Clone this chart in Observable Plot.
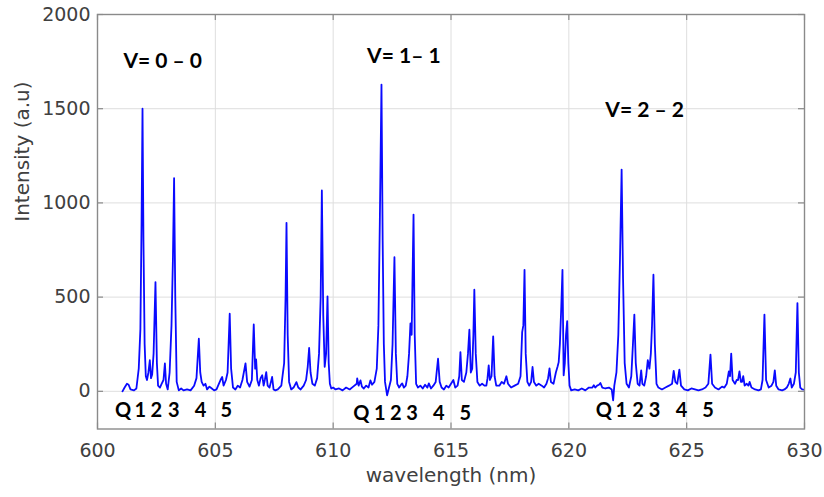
<!DOCTYPE html>
<html>
<head>
<meta charset="utf-8">
<script src="https://cdn.jsdelivr.net/npm/d3@7"></script>
<script src="https://cdn.jsdelivr.net/npm/@observablehq/plot@0.6"></script>
<style>
  html, body { margin: 0; padding: 0; background: #ffffff; }
  #chart svg { display: block; }
</style>
</head>
<body>
<div id="chart"></div>
<script>
// ---- data ----
const wavelength = [
  601.06,601.15,601.25,601.32,601.40,601.55,601.65,601.75,601.82,601.87,601.91,601.95,602.00,602.05,602.10,602.16,602.22,602.27,602.32,602.38,602.46,602.52,602.57,602.65,602.72,602.80,602.86,602.91,602.98,603.06,603.14,603.20,603.25,603.30,603.36,603.45,603.55,603.65,603.80,603.95,604.10,604.20,604.30,604.36,604.42,604.50,604.58,604.65,604.75,604.85,604.95,605.05,605.15,605.22,605.29,605.35,605.45,605.52,605.61,605.67,605.75,605.85,605.95,606.05,606.15,606.28,606.35,606.45,606.55,606.63,606.69,606.73,606.78,606.85,606.92,606.99,607.05,607.10,607.16,607.22,607.30,607.36,607.41,607.47,607.55,607.65,607.80,607.92,607.98,608.02,608.07,608.13,608.22,608.32,608.44,608.52,608.62,608.75,608.85,608.92,608.98,609.04,609.12,609.22,609.32,609.40,609.47,609.52,609.58,609.64,609.70,609.76,609.81,609.86,609.92,610.00,
  610.10,610.25,610.40,610.55,610.70,610.85,611.00,611.02,611.08,611.16,611.22,611.30,611.40,611.50,611.58,611.65,611.75,611.85,611.92,611.98,612.05,612.10,612.15,612.20,612.29,612.35,612.45,612.52,612.60,612.66,612.72,612.80,612.88,612.93,613.00,613.08,613.15,613.22,613.28,613.33,613.41,613.46,613.52,613.60,613.70,613.80,613.90,614.00,614.06,614.15,614.25,614.35,614.45,614.52,614.60,614.70,614.80,614.90,615.00,615.10,615.18,615.28,615.35,615.40,615.46,615.55,615.65,615.72,615.78,615.84,615.90,615.95,615.99,616.05,616.12,616.22,616.32,616.42,616.50,616.55,616.60,616.65,616.72,616.79,616.85,616.92,617.05,617.15,617.25,617.35,617.42,617.55,617.70,617.85,617.95,618.02,618.07,618.12,618.17,618.24,618.32,618.40,618.46,618.52,618.62,618.72,618.85,618.95,619.05,619.12,619.18,619.24,619.35,619.45,619.52,619.57,619.62,619.68,619.73,619.78,619.83,619.88,619.93,619.98,620.03,
  620.10,620.25,620.40,620.55,620.70,620.85,621.00,621.06,621.12,621.20,621.28,621.34,621.42,621.55,621.70,621.82,621.88,621.93,622.02,622.10,622.17,622.24,622.30,622.37,622.45,622.55,622.65,622.72,622.78,622.84,622.92,623.00,623.07,623.12,623.20,623.28,623.35,623.42,623.48,623.53,623.59,623.65,623.72,623.80,623.95,624.10,624.25,624.38,624.45,624.52,624.60,624.69,624.76,624.90,625.05,625.20,625.35,625.50,625.65,625.80,625.92,626.01,626.08,626.20,626.35,626.50,626.60,626.70,626.79,626.84,626.89,626.95,627.05,627.12,627.18,627.24,627.30,627.35,627.40,627.46,627.55,627.62,627.67,627.75,627.90,628.05,628.15,628.22,628.30,628.37,628.48,628.60,628.68,628.74,628.80,628.90,629.05,629.15,629.25,629.33,629.40,629.46,629.55,629.63,629.70,629.76,629.82,629.90,629.97
];
const intensity = [
  0,20,40,35,10,5,15,120,330,900,1500,800,250,80,60,100,165,70,90,200,580,150,30,20,40,60,148,40,10,100,350,700,1131,500,50,5,15,5,10,5,30,70,279,100,50,30,40,10,25,15,5,10,40,60,76,30,60,100,412,120,20,10,30,20,60,148,50,25,60,355,120,170,60,30,70,85,30,60,102,30,20,50,76,10,5,10,30,150,500,894,300,50,10,20,49,20,10,30,60,130,230,100,40,30,70,200,500,1066,400,130,200,504,150,40,15,20,
  10,15,5,20,10,25,40,69,30,58,25,15,30,20,58,35,50,120,350,900,1628,800,250,50,-21,10,60,250,712,200,40,20,35,42,20,30,80,200,361,300,938,300,40,20,30,15,35,20,42,15,30,50,173,50,20,10,30,20,40,60,20,30,80,208,60,50,100,200,327,100,120,300,539,200,50,30,40,30,30,70,138,60,80,292,80,30,30,50,40,80,40,20,30,40,80,314,350,645,200,50,30,50,129,50,30,40,30,20,40,70,122,50,40,100,130,155,250,450,645,85,150,300,373,150,30,
  5,10,5,15,5,20,20,32,20,30,35,44,20,15,20,10,-48,30,100,300,700,1177,600,150,40,20,80,250,407,150,40,30,111,40,30,80,165,120,200,350,619,250,40,20,10,20,30,40,108,50,40,115,30,10,5,15,10,5,10,20,40,195,40,20,10,25,20,40,106,80,200,60,40,60,60,106,50,50,80,30,40,30,50,20,10,5,10,60,407,60,20,30,50,111,30,10,5,10,20,40,68,20,40,100,468,100,20,10,9
];
const xTicks = [600, 605, 610, 615, 620, 625, 630];
const yTicks = [0, 500, 1000, 1500, 2000];
const xLabel = "wavelength (nm)";
const yLabel = "Intensity (a.u)";

const bandLabels = ["V= 0 – 0", "V= 1– 1", "V= 2 – 2"];
const bandX = [601.10, 611.44, 621.55];
const bandY = [1750, 1776, 1490];

const branchLabels = ["Q", "1", "2", "3", "4", "5"];
const branchX = [
  [601.09, 601.82, 602.50, 603.24, 604.37, 605.47],
  [611.19, 611.98, 612.66, 613.35, 614.48, 615.61],
  [621.48, 622.23, 622.94, 623.64, 624.78, 625.91]
];
const branchY = [-104, -117, -104];

// ---- build tables ----
const spectrum = wavelength.map((w, i) => ({w, v: intensity[i]}));
const bands = bandLabels.map((t, i) => ({t, x: bandX[i], y: bandY[i]}));
const branches = branchX.flatMap((xs, j) => xs.map((x, i) => ({t: branchLabels[i], x, y: branchY[j]})));

const W = 824, H = 497;
const mL = 97, mR = 20, mT = 14, mB = 68.5;
const innerW = W - mL - mR, innerH = H - mT - mB;
const tickLen = 6;
const axisColor = "#8a8a8a";
const textColor = "#404040";

const chart = Plot.plot({
  width: W,
  height: H,
  marginLeft: mL,
  marginRight: mR,
  marginTop: mT,
  marginBottom: mB,
  style: {fontFamily: "DejaVu Sans", fontSize: "19px", color: textColor, background: "#ffffff"},
  x: {domain: [600, 630], ticks: xTicks, label: null},
  y: {domain: [-200, 2000], ticks: yTicks, label: null},
  marks: [
    Plot.gridX(xTicks, {stroke: "#dedede", strokeOpacity: 1, strokeWidth: 1}),
    Plot.gridY(yTicks, {stroke: "#dedede", strokeOpacity: 1, strokeWidth: 1}),
    Plot.line(spectrum, {x: "w", y: "v", stroke: "#0a0aff", strokeWidth: 1.8, curve: "linear"}),
    Plot.frame({stroke: axisColor, strokeWidth: 1.4}),
    Plot.tickX(xTicks, {x: d => d, insetTop: innerH - tickLen, stroke: axisColor, strokeWidth: 1.2}),
    Plot.tickX(xTicks, {x: d => d, insetBottom: innerH - tickLen, stroke: axisColor, strokeWidth: 1.2}),
    Plot.tickY(yTicks, {y: d => d, insetRight: innerW - tickLen, stroke: axisColor, strokeWidth: 1.2}),
    Plot.tickY(yTicks, {y: d => d, insetLeft: innerW - tickLen, stroke: axisColor, strokeWidth: 1.2}),
    Plot.axisX(xTicks, {tickSize: 0, tickPadding: 14, fontSize: 19, fill: textColor, tickFormat: d => String(d)}),
    Plot.axisY(yTicks, {tickSize: 0, tickPadding: 7, fontSize: 19, fill: textColor, tickFormat: d => String(d)}),
    Plot.text([xLabel], {frameAnchor: "bottom", dy: 53, text: d => d, fontSize: 20, fill: textColor}),
    Plot.text([yLabel], {frameAnchor: "left", rotate: -90, dx: -75, text: d => d, fontSize: 20, fill: textColor}),
    Plot.text(bands, {x: "x", y: "y", text: "t", textAnchor: "start", fontFamily: "Lato", fontWeight: "bold", fontSize: 21, fill: "#000000"}),
    Plot.text(branches, {x: "x", y: "y", text: "t", fontFamily: "Lato", fontWeight: "bold", fontSize: 20, fill: "#000000"})
  ]
});
document.getElementById("chart").appendChild(chart);
</script>
</body>
</html>
